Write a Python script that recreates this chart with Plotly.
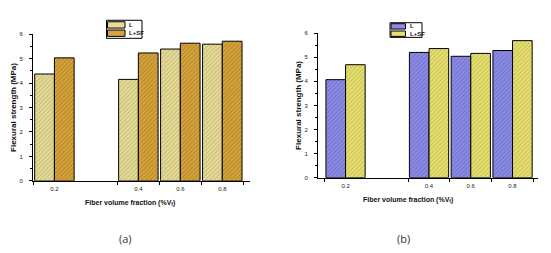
import plotly.graph_objects as go

# ---- data ----
categories = ["0.2", "gap", "0.4", "0.6", "0.8"]
tick_labels = ["0.2", "0.4", "0.6", "0.8"]
a_L = [4.37, None, 4.15, 5.39, 5.59]
a_LSF = [5.03, None, 5.23, 5.63, 5.71]
b_L = [4.07, None, 5.20, 5.04, 5.28]
b_LSF = [4.69, None, 5.36, 5.16, 5.69]
series_names = ["L", "L+SF"]
y_ticks = [0, 1, 2, 3, 4, 5, 6]
x_title = "Fiber volume fraction (%V<sub>f</sub>)"
y_title = "Flexural strength (MPa)"
panel_labels = ["(a)", "(b)"]

# ---- styles ----
W, H = 551, 253
OFF = 8  # page body margin in the browser
FONT = "Liberation Sans, Arial, sans-serif"
col_a = [("#e6dc96", "#9a9058"), ("#d6a43a", "#8a6018")]
col_b = [("#8c8ce6", "#5050a8"), ("#e6e070", "#a09a38")]

fig = go.Figure()

def add_bars(ys, cols, xa, ya):
    for name, y, (bg, fg) in zip(series_names, ys, cols):
        fig.add_trace(go.Bar(
            x=categories, y=y, name=name, xaxis=xa, yaxis=ya,
            marker=dict(color=bg, line=dict(color="black", width=1),
                        pattern=dict(shape="/", fgcolor=fg, bgcolor=bg,
                                     size=3, solidity=0.3)),
            showlegend=False))

add_bars([a_L, a_LSF], col_a, "x", "y")
add_bars([b_L, b_LSF], col_b, "x2", "y2")

def px(x):
    return (x - OFF) / W

def py(y):
    return 1 - (y - OFF) / H

axis_common = dict(showline=True, linecolor="black", linewidth=1, ticks="outside",
                   ticklen=3, tickcolor="black", showgrid=False, zeroline=False,
                   tickfont=dict(family=FONT, size=6, color="#222"))

xa_common = dict(axis_common, type="category", categoryorder="array",
                 categoryarray=categories, tickvals=tick_labels, ticktext=tick_labels,
                 tickson="boundaries", ticklabelstandoff=2)
ya_common = dict(axis_common, range=[0, 6], tickvals=y_ticks, ticklabelstandoff=5,
                 minor=dict(ticks="outside", ticklen=2, tickcolor="black", dtick=0.5),
                 title=dict(text="<b>" + y_title + "</b>",
                            font=dict(family=FONT, size=8, color="#111"), standoff=1))

fig.update_layout(
    width=W, height=H, margin=dict(l=0, r=0, t=0, b=0),
    paper_bgcolor="white", plot_bgcolor="white",
    barmode="group", bargap=0.06, bargroupgap=0,
    xaxis=dict(xa_common, domain=[px(33), px(250)], range=[-0.51, 4.66], anchor="y"),
    yaxis=dict(ya_common, domain=[py(182), py(31.7)], anchor="x"),
    xaxis2=dict(xa_common, domain=[px(318), px(538)], range=[-0.66, 4.61], anchor="y2"),
    yaxis2=dict(ya_common, domain=[py(178.7), py(30.7)], anchor="x2"),
)

# x-axis titles (placed left of axis centre, as in the reference)
for cx, cy in [(130, 205), (408, 202)]:
    fig.add_annotation(xref="paper", yref="paper", x=px(cx), y=py(cy),
                       text="<b>" + x_title + "</b>", showarrow=False,
                       xanchor="center", yanchor="middle",
                       font=dict(family=FONT, size=7, color="#111"))

# manual legends
def legend_box(x0, y0, sw_w, sw_h, gap, cols, box=None):
    if box:
        fig.add_shape(type="rect", xref="paper", yref="paper",
                      x0=px(box[0]), x1=px(box[1]), y0=py(box[3]), y1=py(box[2]),
                      line=dict(color="black", width=1), fillcolor="white", layer="below")
    for i, (name, (bg, fg)) in enumerate(zip(series_names, cols)):
        top = y0 + i * (sw_h + gap)
        fig.add_shape(type="rect", xref="paper", yref="paper",
                      x0=px(x0), x1=px(x0 + sw_w), y0=py(top + sw_h), y1=py(top),
                      line=dict(color="black", width=1), fillcolor=bg)
        fig.add_annotation(xref="paper", yref="paper", x=px(x0 + sw_w + 2),
                           y=py(top + sw_h / 2), text="<b>" + name + "</b>",
                           showarrow=False, xanchor="left", yanchor="middle",
                           font=dict(family=FONT, size=6, color="#111"))

legend_box(107.5, 19, 17.5, 6.5, 2, col_a, box=(106.5, 142, 17.5, 36))
legend_box(391, 21, 14.5, 5.5, 2, col_b, box=(390, 422, 20, 35))

for lbl, cx in zip(panel_labels, [125, 403]):
    fig.add_annotation(xref="paper", yref="paper", x=px(cx), y=py(241),
                       text=lbl, showarrow=False, xanchor="center", yanchor="middle",
                       font=dict(family="Open Sans, sans-serif", size=11, color="#333"))

fig.write_html("out.html")
